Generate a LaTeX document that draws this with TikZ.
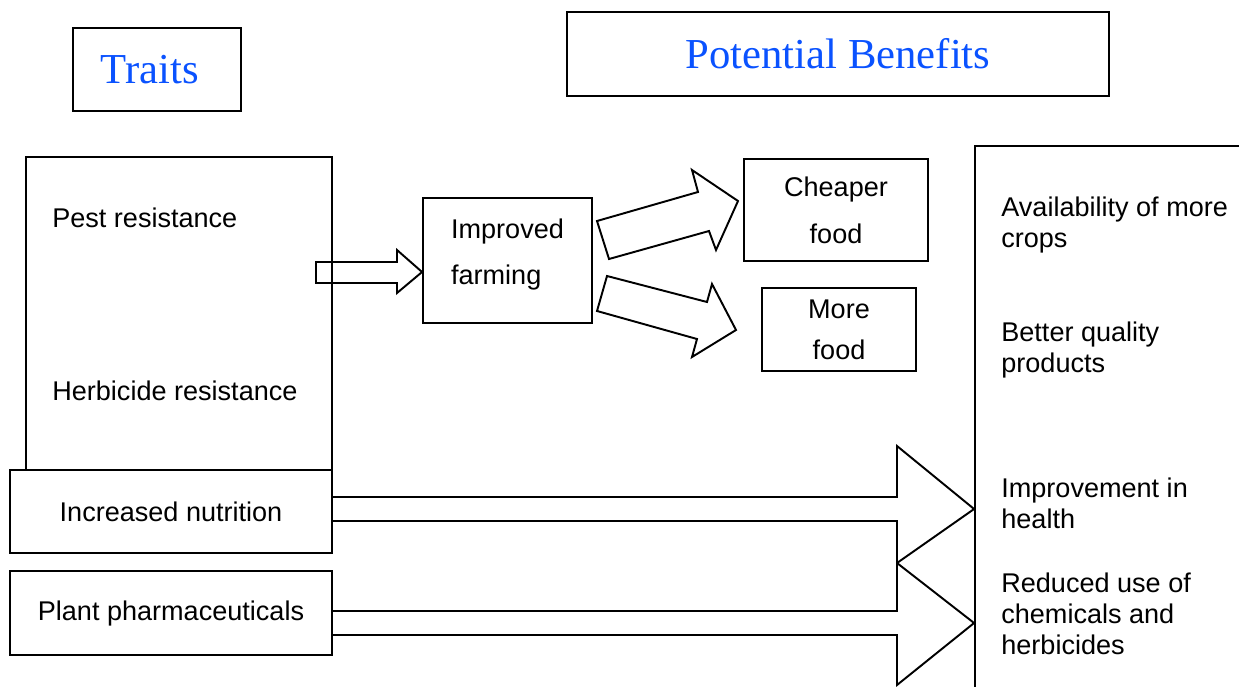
\documentclass[tikz,border=0pt]{standalone}
\usepackage{fontspec}
\setmainfont{Liberation Sans}
\newfontfamily\titlefont{Liberation Serif}
\usepackage{tikz}
\usetikzlibrary{positioning,calc}
\definecolor{titleblue}{RGB}{10,82,255}

\begin{document}
\begin{tikzpicture}[x=0.02cm,y=-0.02cm,font=\fontsize{15.4}{17.6}\selectfont,
  box/.style={rectangle,draw,line width=1.1pt,inner sep=0pt},
  title/.style={box,font=\titlefont\fontsize{24.3}{28}\selectfont,text=titleblue},
  fat/.style={draw,line width=1.1pt,line join=miter},
  txt/.style={anchor=base west,inner sep=0pt,align=left}]
      \useasboundingbox (0,0) rectangle (1239,686);
      % headings
      \node at (157,69.5) [title,minimum width=3.36cm,minimum height=1.66cm] (traits) {Traits\kern0.28cm};
      \node at (838,54) [title,minimum width=10.84cm,minimum height=1.68cm] (benefits) {Potential Benefits};
      % traits
      \node at (179,313.5) [box,minimum width=6.12cm,minimum height=6.26cm] (traitbox) {};
      \node at (52,227) [txt] (pest) {Pest resistance};
      \node at (52,400) [txt] (herbicide) {Herbicide resistance};
      \node at (171,511.5) [box,fill=white,minimum width=6.44cm,minimum height=1.66cm] (nutrition) {Increased nutrition};
      \node at (171,613) [box,minimum width=6.44cm,minimum height=1.68cm] (pharma) {Plant pharmaceuticals};
      % middle
      \node at (507.5,260.5) [box,minimum width=3.38cm,minimum height=2.5cm,align=left,text depth=0.36cm,font=\fontsize{15.4}{26.1}\selectfont] (farming) {Improved\\farming};
      \node at (836,210) [box,minimum width=3.68cm,minimum height=2.04cm,align=center,font=\fontsize{15.4}{26.7}\selectfont] (cheaper) {Cheaper\\food};
      \node at (839,329.5) [box,minimum width=3.08cm,minimum height=1.66cm,align=center,font=\fontsize{15.4}{23.2}\selectfont] (more) {More\\food};
      % benefits
      \node at (1137.5,433) [box,minimum width=6.5cm,minimum height=11.48cm] (result) {};
      \node at (1001,247) [txt] (crops) {Availability of more\\crops};
      \node at (1001,372) [txt] (quality) {Better quality\\products};
      \node at (1001,528) [txt] (health) {Improvement in\\health};
      \node at (1001,654) [txt] (chemicals) {Reduced use of\\chemicals and\\herbicides};
      % arrows
      \draw[fat] (316,262) -- (397,262) -- (397,250) -- (farming.west |- 0,272) -- (397,293) -- (397,283) -- (316,283) -- cycle;
      \draw[fat] (597,221) -- (698,192) -- (692,170) -- (738,201) -- (716,250) -- (709,231) -- (609,259) -- cycle;
      \draw[fat] (607,276) -- (707,302) -- (712,284) -- (736,330) -- (692,357) -- (697,339) -- (597,311) -- cycle;
      \draw[fat] (nutrition.east |- 0,497) -- (897,497) -- (897,446) -- (result.west |- 0,509) -- (897,563) -- (897,521) -- (nutrition.east |- 0,521);
      \draw[fat] (pharma.east |- 0,611) -- (897,611) -- (897,563) -- (result.west |- 0,623) -- (897,685) -- (897,635) -- (pharma.east |- 0,635);
  \end{tikzpicture}
\end{document}
